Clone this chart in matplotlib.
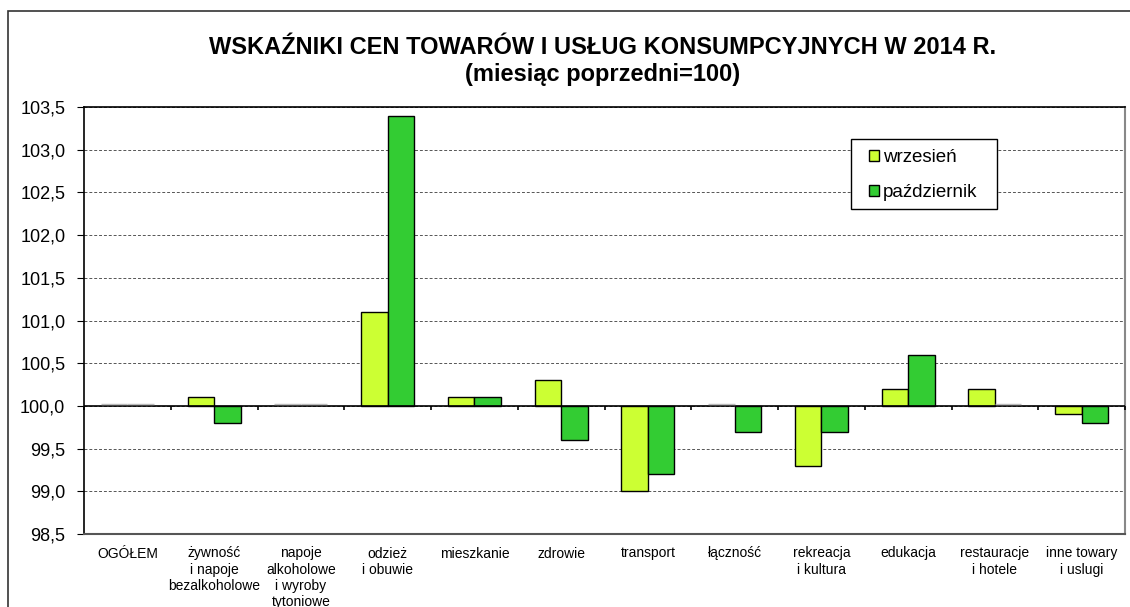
import numpy as np
import matplotlib
matplotlib.use('Agg')
import matplotlib.pyplot as plt
from matplotlib.patches import Rectangle, Patch

plt.rcParams['font.family'] = ['Liberation Sans', 'DejaVu Sans']

categories = ['OGÓŁEM', 'żywność\ni napoje\nbezalkoholowe', 'napoje\nalkoholowe\ni wyroby\ntytoniowe',
              'odzież\ni obuwie', 'mieszkanie', 'zdrowie', 'transport', 'łączność',
              'rekreacja\ni kultura', 'edukacja', 'restauracje\ni hotele', 'inne towary\ni uslugi']
wrzesien = [100.0, 100.1, 100.0, 101.1, 100.1, 100.3, 99.0, 100.0, 99.3, 100.2, 100.2, 99.9]
pazdziernik = [100.0, 99.8, 100.0, 103.4, 100.1, 99.6, 99.2, 99.7, 99.7, 100.6, 100.0, 99.8]
series_names = ['wrzesień', 'październik']
colors = ['#CCFF33', '#33CC33']
yticks = [98.5, 99.0, 99.5, 100.0, 100.5, 101.0, 101.5, 102.0, 102.5, 103.0, 103.5]
ymin, ymax, base = 98.5, 103.5, 100.0

W, H = 1130, 607
fig = plt.figure(figsize=(W / 100, H / 100), dpi=100)
# outer chart frame
fig.patches.append(Rectangle((8 / W, -0.1), 1.2, 1 - 11 / H + 0.1, transform=fig.transFigure,
                             fill=False, edgecolor='#333333', linewidth=1.2))
ax = fig.add_axes([84 / W, 1 - 534 / H, (1125 - 84) / W, (534 - 107) / H])

x = np.arange(len(categories))
w = 0.305
for i, (vals, col) in enumerate(zip([wrzesien, pazdziernik], colors)):
    h = np.array(vals) - base
    edges = ['#BBBBBB' if abs(v) < 1e-9 else 'black' for v in h]
    bars = ax.bar(x + (i - 0.5) * w, h, w, bottom=base, color=col, edgecolor=edges, linewidth=1.0, zorder=3)
    for b, v in zip(bars, h):
        if abs(v) < 1e-9:
            b.set_y(base + 0.02)
            b.set_zorder(5)

ax.set_xlim(-0.5, len(categories) - 0.5)
ax.set_ylim(ymin, ymax)
ax.set_yticks(yticks)
ax.set_yticklabels([f'{t:.1f}'.replace('.', ',') for t in yticks], fontsize=13)
ax.yaxis.grid(True, linestyle=(0, (3, 2)), color='#555555', linewidth=0.7)
ax.set_axisbelow(True)
ax.axhline(base, color='black', linewidth=1.2, zorder=4)

# category axis crosses at 100: tick marks between categories, pointing down
tick_len = 4 / ax.bbox.height * (ymax - ymin)
ax.vlines(np.arange(len(categories) + 1) - 0.5, base - tick_len, base, color='black',
          linewidth=1.2, zorder=4, clip_on=False)

ax.set_xticks(x)
ax.set_xticklabels(categories, fontsize=10, linespacing=1.2)
ax.tick_params(axis='x', length=0, pad=9)
ax.tick_params(axis='y', length=5, direction='out', pad=8.5)

for s in ['left', 'top']:
    ax.spines[s].set_linewidth(1.2)
ax.spines['bottom'].set_color('#555555')
ax.spines['bottom'].set_linewidth(1.5)
ax.spines['right'].set_color('#888888')
ax.spines['right'].set_linewidth(1.5)

fig.text(0.533, 1 - 47 / H, 'WSKAŹNIKI CEN TOWARÓW I USŁUG KONSUMPCYJNYCH W 2014 R.',
         ha='center', va='center', fontsize=17, fontweight='bold')
fig.text(0.533, 1 - 74 / H, '(miesiąc poprzedni=100)',
         ha='center', va='center', fontsize=17, fontweight='bold')

# legend frame drawn separately to match the box size
fig.patches.append(Rectangle((851 / W, 1 - 209 / H), (997 - 851) / W, (209 - 139) / H,
                             transform=fig.transFigure, fill=True, facecolor='white',
                             edgecolor='black', linewidth=1.0, zorder=5))
handles = [Patch(facecolor=c, edgecolor='black', label=n) for c, n in zip(colors, series_names)]
leg = fig.legend(handles=handles, loc='upper left', bbox_to_anchor=(869 / W, 1 - 149 / H),
                 fontsize=13.5, frameon=False, handlelength=0.55, handleheight=0.55,
                 handletextpad=0.2, labelspacing=0.97, borderpad=0, borderaxespad=0)
leg.set_zorder(6)

fig.savefig('out.png', dpi=100)
